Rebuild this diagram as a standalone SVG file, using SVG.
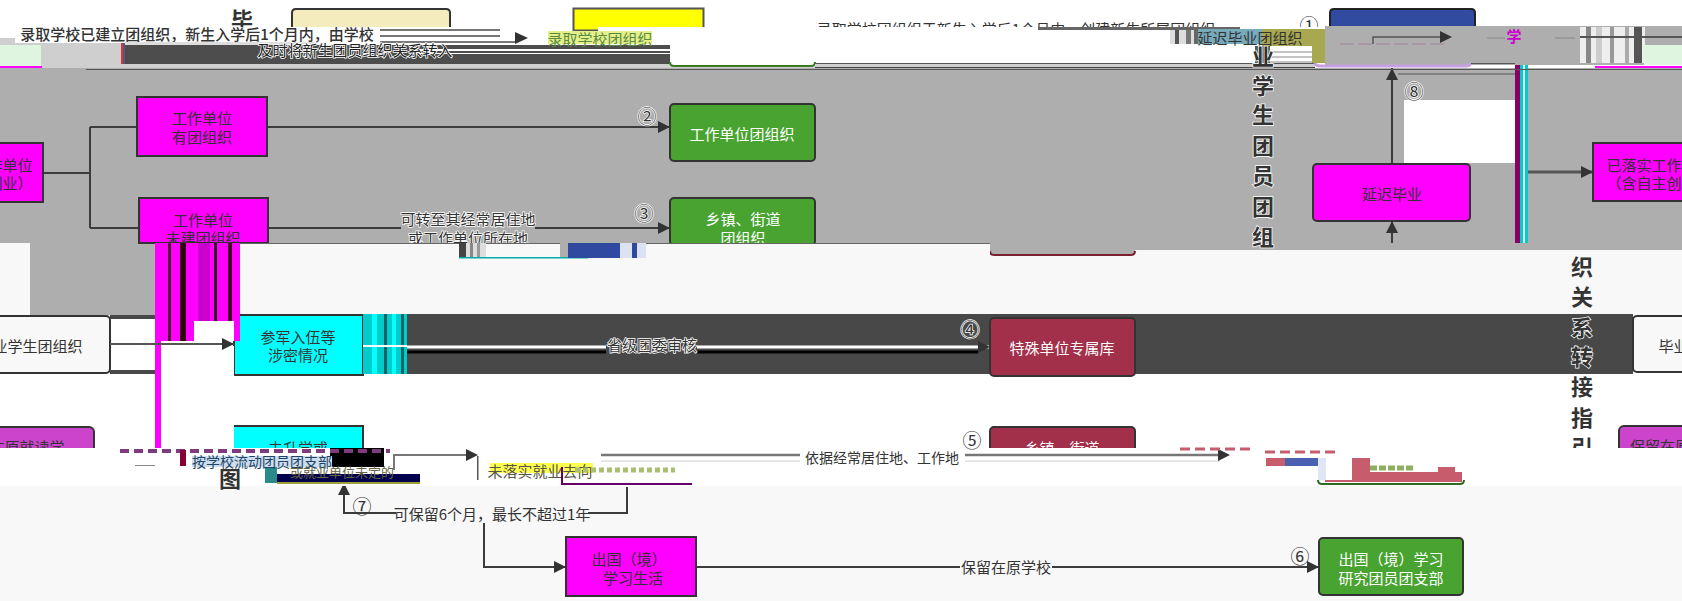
<svg xmlns="http://www.w3.org/2000/svg" width="1682" height="601" viewBox="0 0 1682 601">
<defs>
<marker id="ah" markerWidth="13" markerHeight="12" refX="12" refY="6" orient="auto" markerUnits="userSpaceOnUse"><path d="M0 0L12 6L0 12z" fill="#333"/></marker>
</defs>
<style>
text{font-family:"Noto Sans CJK SC","Noto Sans",sans-serif;font-size:15px;fill:#333;text-anchor:middle;dominant-baseline:central}
.n{stroke:#333;stroke-width:2}
.m{fill:#f0f}.g{fill:#49a331}.c{fill:#0ff}.r{fill:#a2304a}.p{fill:#cc44cc}
.w{fill:#fff}.f{fill:#f8f8f8}.gr{fill:#aeaeae}.lg{fill:#cfcfcf}.d{fill:#484848}
.l{fill:none;stroke:#3c3c3c;stroke-width:2}
.t{font-size:22px;font-weight:700}
.ci{font-size:19px}
.h{stroke:#fff;stroke-width:1.500;paint-order:stroke}
</style>
<g id="background">
<rect width="1682" height="601" class="w"/>
<rect y="68" width="1682" height="175" class="gr"/>
<rect y="243" width="1682" height="72" class="f"/>
<rect x="1135" y="243" width="547" height="7" class="gr"/>
<path d="M990 243V251Q990 255 994 255H1131Q1135 255 1135 251V243z" class="gr"/>
<path d="M990 251Q990 255 994 255H1131Q1135 255 1135 251" fill="none" stroke="#7a1f30" stroke-width="2"/>
<rect x="30" y="243" width="125" height="72" class="gr"/>
<rect x="0" y="486" width="1682" height="115" class="f"/>
<rect x="407" y="314" width="583" height="60" class="d"/>
<rect x="990" y="314" width="643" height="60" class="d"/>
<rect x="1404" y="100" width="111" height="63" class="w"/>
</g>
<g id="connectors">
<path class="l" d="M43 173H90M90 127V228"/>
<path class="l" d="M90 127H137M90 228H139"/>
<path class="l" d="M267 127H670" marker-end="url(#ah)"/>
<path class="l" d="M268 228H670" marker-end="url(#ah)"/>
<path class="l" d="M1392 164V68" marker-end="url(#ah)"/>
<path class="l" d="M1392 243V221" marker-end="url(#ah)"/>
<path d="M1520 172H1593" stroke="#555" stroke-width="3" fill="none" marker-end="url(#ah)"/>
<path d="M363 347H990" stroke="#fff" stroke-width="3" fill="none" marker-end="url(#ah)"/>
<path d="M403 352H978" stroke="#000" stroke-width="3" fill="none"/>
<path class="l" d="M627 487V513H588"/>
<path class="l" d="M396 513H344V483" marker-end="url(#ah)"/>
<path class="l" d="M484 523V567H566" marker-end="url(#ah)"/>
<path class="l" d="M696 567H1319" marker-end="url(#ah)"/>
</g>
<g id="node-work-left"><rect x="-80" y="143" width="123" height="59" class="m n"/><text x="-20" y="164">已落实工作单位</text><text x="-20" y="182">（含自主创业）</text></g>
<g id="node-work-org"><rect x="137" y="97" width="130" height="59" class="m n"/><text x="202" y="117.500">工作单位</text><text x="202" y="136">有团组织</text></g>
<g id="node-work-noorg"><rect x="139" y="198" width="129" height="45" class="m n"/><text x="203" y="219">工作单位</text><text x="203" y="237">未建团组织</text></g>
<g id="node-org-2"><rect x="670" y="104" width="145" height="57" rx="4" class="g n"/><text x="742" y="133" style="fill:#fff">工作单位团组织</text></g>
<g id="node-org-3"><rect x="670" y="198" width="145" height="47" rx="4" class="g n"/><text x="743" y="218" style="fill:#fff">乡镇、街道</text><text x="743" y="237" style="fill:#fff">团组织</text></g>
<g id="node-delay"><rect x="1313" y="164" width="157" height="57" rx="4" class="m n"/><text x="1392" y="193">延迟毕业</text></g>
<g id="node-work-right"><rect x="1593" y="143" width="123" height="58" class="m n"/><text x="1659" y="164">已落实工作单位</text><text x="1659" y="182">（含自主创业）</text></g>
<g id="node-left-grad"><rect x="-60" y="316" width="170" height="57" rx="4" class="f n"/><text x="30" y="345">毕业学生团组织</text></g>
<g id="node-army"><rect x="234" y="315" width="129" height="60" class="c n"/><text x="298" y="336">参军入伍等</text><text x="298" y="354">涉密情况</text></g>
<g id="node-special"><rect x="990" y="318" width="145" height="58" rx="4" class="r n"/><text x="1062" y="347" style="fill:#fff">特殊单位专属库</text></g>
<g id="node-right-grad"><rect x="1633" y="316" width="100" height="56" rx="4" class="f n"/><text x="1711" y="345">毕业学生团组织</text></g>
<g id="node-keep-left"><rect x="-60" y="427" width="154" height="50" rx="5" class="p n"/><text x="27" y="446">在原就读学</text></g>
<g id="node-unemployed"><rect x="233" y="426" width="130" height="50" class="c n"/><text x="298" y="447">未升学或</text></g>
<g id="node-town-5"><rect x="990" y="427" width="145" height="50" rx="4" class="r n"/><text x="1062" y="447" style="fill:#fff">乡镇、街道</text></g>
<g id="node-keep-right"><rect x="1619" y="426" width="100" height="50" rx="5" class="p n"/><text x="1690" y="445">保留在原就读学校</text></g>
<g id="node-abroad"><rect x="566" y="537" width="130" height="59" class="m n"/><text x="629" y="558">出国（境）</text><text x="633" y="577">学习生活</text></g>
<g id="node-abroad-org"><rect x="1319" y="538" width="144" height="57" rx="4" class="g n"/><text x="1391" y="558" style="fill:#fff">出国（境）学习</text><text x="1391" y="577" style="fill:#fff">研究团员团支部</text></g>
<g id="labels">
<text x="647" y="115" class="ci h">②</text><text x="644" y="212" class="ci h">③</text>
<text x="1414" y="90" class="ci h">⑧</text><text x="970" y="328" class="ci h">④</text>
<text x="362" y="505" class="ci">⑦</text><text x="1300" y="555" class="ci">⑥</text>
<rect x="401" y="209" width="134" height="34" class="gr"/>
<text x="468" y="218" class="h">可转至其经常居住地</text><text x="468" y="237" class="h">或工作单位所在地</text>
<rect x="606" y="336" width="91" height="18" class="d"/>
<text x="652" y="344" class="h">省级团委审核</text>
<rect x="396" y="503" width="192" height="20" class="f"/>
<text x="492" y="513">可保留6个月，最长不超过1年</text>
<rect x="960" y="557" width="92" height="20" class="f"/>
<text x="1006" y="566">保留在原学校</text>
<text x="1263" y="84" class="t h">学</text><text x="1263" y="113" class="t h">生</text><text x="1263" y="144" class="t h">团</text><text x="1263" y="174" class="t h">员</text><text x="1263" y="205" class="t h">团</text><text x="1263" y="235" class="t h">组</text>
<text x="1582" y="265" class="t">织</text><text x="1582" y="295" class="t">关</text><text x="1582" y="326" class="t h">系</text><text x="1582" y="355" class="t h">转</text><text x="1582" y="385" class="t">接</text><text x="1582" y="416" class="t">指</text><text x="1582" y="446" class="t">引</text>
</g>
<g id="band-bottom">
<rect x="240" y="243" width="219" height="17" class="f"/>
<rect x="486" y="243" width="504" height="17" class="f"/>
<rect x="240" y="243" width="750" height="1" fill="#666"/>
<rect x="459" y="243" width="27" height="14" fill="#ddd"/>
<rect x="459" y="243" width="7" height="14" fill="#444"/><rect x="470" y="243" width="3" height="14" fill="#888"/><rect x="477" y="243" width="3" height="14" fill="#999"/>
<rect x="459" y="257" width="129" height="1.500" fill="#0aa"/>
<rect x="560" y="243" width="8" height="14" class="gr"/>
<rect x="568" y="243" width="52" height="15" fill="#3049a0"/><rect x="620" y="243" width="26" height="15" fill="#dde2f2"/><rect x="632" y="243" width="5" height="15" fill="#3049a0"/>
<rect x="161" y="243" width="79" height="98" class="m"/>
<rect x="168" y="243" width="3" height="98" fill="#503"/><rect x="180" y="243" width="6" height="98" fill="#301"/><rect x="198" y="243" width="12" height="98" fill="#c0c"/><rect x="214" y="243" width="3" height="98" fill="#302"/><rect x="228" y="243" width="4" height="98" fill="#402"/>
<rect x="155" y="243" width="6" height="205" class="m"/>
<rect x="161" y="346" width="73" height="102" class="w"/>
<rect x="194" y="321" width="40" height="20" class="w"/>
<rect x="110" y="315" width="45" height="4" fill="#484848"/><rect x="110" y="370" width="45" height="4" fill="#484848"/>
<path d="M110 344H234" stroke="#555" stroke-width="2" fill="none" marker-end="url(#ah)"/>
<rect x="363" y="314" width="44" height="60" fill="#0cc"/>
<rect x="372" y="314" width="5" height="60" fill="#0ff"/><rect x="384" y="314" width="3" height="60" fill="#066"/><rect x="392" y="314" width="4" height="60" fill="#0ff"/><rect x="401" y="314" width="3" height="60" fill="#066"/>
<rect x="363" y="345" width="44" height="2" class="w"/>
</g>
<g id="right-column">
<rect x="1502" y="45" width="3" height="18" fill="#0aa"/><rect x="1507" y="45" width="3" height="18" fill="#0aa"/>
<rect x="1515" y="42" width="5" height="201" fill="#806"/>
<rect x="1520" y="42" width="3" height="201" fill="#0cc"/><rect x="1523" y="42" width="2" height="201" fill="#eee"/><rect x="1525" y="42" width="3" height="201" fill="#0cc"/>
<path d="M1398 74H1515" stroke="#555" fill="none"/>
</g>
<g id="top-band">
<path d="M292 28V13Q292 9 296 9H446Q450 9 450 13V28z" fill="#f5ecbd" stroke="#333" stroke-width="2"/>
<rect x="573.500" y="8.500" width="130" height="22" fill="#ff0" stroke="#555" stroke-width="2"/>
<path d="M1330 28V13Q1330 9 1334 9H1471Q1475 9 1475 13V28z" fill="#304ba0" stroke="#222" stroke-width="2"/>
<text x="242" y="18" class="t">毕</text>
<text x="1016" y="28">录取学校团组织于新生入学后1个月内，创建新生所属团组织</text>
<text x="1309" y="24" class="ci">①</text>
<rect x="598" y="27" width="1084" height="38" class="w"/>
<rect y="27" width="520" height="18" class="w"/>
<rect x="0" y="38" width="125" height="30" class="lg"/>
<rect x="0" y="45" width="41" height="21" fill="#e0f5e0"/>
<rect x="0" y="66" width="42" height="2" class="m"/>
<rect x="125" y="45" width="545" height="19" fill="#4d4d4d"/>
<rect x="121" y="43" width="2" height="21" fill="#d33"/><rect x="123" y="43" width="2" height="21" fill="#558"/>
<rect x="420" y="49" width="250" height="2" class="w"/><rect x="420" y="53" width="250" height="1" class="w"/>
<rect x="125" y="64" width="715" height="4" class="lg"/>
<rect x="86" y="69" width="1596" height="1" fill="#555"/>
<rect x="670" y="41" width="145" height="25" class="w"/>
<path d="M670 62Q670 66 674 66H811Q815 66 815 62" fill="none" stroke="#3a7a25" stroke-width="2"/>
<rect x="815" y="63" width="500" height="1" fill="#555"/>
<rect x="815" y="64" width="500" height="3" class="lg"/>
<rect x="815" y="67" width="500" height="1" fill="#444"/>
<rect y="37" x="15" width="365" height="6" class="w"/>
<text x="197" y="33" style="font-weight:500">录取学校已建立团组织，新生入学后1个月内，由学校</text>
<path d="M380 30H500M380 36H500M380 42H515" stroke="#777" stroke-width="2" fill="none"/>
<path d="M515 32L528 38L515 44z" fill="#333"/>
<rect x="125" y="42" width="190" height="3" fill="#ddd"/>
<text x="355" y="49" class="h" style="fill:#222">及时将新生团员组织关系转入</text>
<rect x="548" y="31" width="104" height="13" fill="#e4f08a"/>
<text x="600" y="38" style="fill:#5a8a40">录取学校团组织</text>
<rect x="1038" y="27" width="202" height="3" fill="#666"/>
<rect x="1170" y="30" width="92" height="14" fill="#ddd"/>
<rect x="1175" y="30" width="4" height="14" fill="#555"/><rect x="1186" y="30" width="5" height="14" fill="#777"/><rect x="1194" y="30" width="4" height="14" fill="#666"/>
<rect x="1198" y="29" width="64" height="15" fill="#7ab"/>
<rect x="1262" y="29" width="63" height="34" fill="#a8a850"/>
<rect x="1325" y="26" width="357" height="39" class="gr"/>
<rect x="1255" y="46" width="15" height="17" fill="#4a6058"/>
<rect x="1270" y="46" width="42" height="17" class="w"/>
<path d="M1270 52H1312M1270 57H1312M1270 62H1312" stroke="#888" fill="none"/>
<text x="1250" y="37">延迟毕业团组织</text>
<text x="1263" y="55" class="t h">业</text>
<path d="M1315 63Q1316 66 1320 66H1466Q1470 66 1471 63" fill="none" stroke="#c8a0e0" stroke-width="3"/>
<rect x="1471" y="63" width="44" height="1" fill="#555"/>
<path d="M1373 44V37H1440" stroke="#555" stroke-width="1.500" fill="none"/>
<path d="M1440 31L1452 37L1440 43z" fill="#333"/>
<path d="M1340 44H1445" stroke="#a080a0" stroke-dasharray="14 4" fill="none"/>
<path d="M1487 38H1505M1555 38H1575" stroke="#888" fill="none"/>
<text x="1514" y="35" style="fill:#c0c;font-weight:700">学</text>
<rect x="1580" y="27" width="65" height="36" fill="#eee"/>
<rect x="1586" y="27" width="5" height="36" fill="#888"/><rect x="1596" y="27" width="6" height="36" fill="#ccc"/><rect x="1610" y="27" width="4" height="36" fill="#999"/><rect x="1625" y="27" width="4" height="36" fill="#aaa"/><rect x="1634" y="27" width="8" height="36" fill="#555"/>
<rect x="1644" y="45" width="38" height="20" fill="#e0f5e0"/>
<rect x="1595" y="66" width="87" height="2" class="m"/>
<path d="M1580 37H1682" stroke="#555" stroke-width="2" fill="none"/>
</g>
<g id="lower-strip">
<rect x="0" y="448" width="1682" height="38" class="w"/>
<text x="972" y="439" class="ci">⑤</text>
<rect x="330" y="448" width="54" height="19" fill="#000"/>
<path d="M120 451H390" stroke="#803a80" stroke-width="4" stroke-dasharray="9 5" fill="none"/>
<rect x="135" y="465" width="20" height="1" fill="#888"/>
<rect x="180" y="450" width="6" height="16" fill="#803"/>
<rect x="265" y="462" width="12" height="21" fill="#2a8a8a"/>
<rect x="192" y="456" width="140" height="11" fill="#cde"/>
<text x="262" y="461" style="fill:#246;font-size:14px">按学校流动团员团支部</text>
<rect x="277" y="474" width="143" height="8" fill="#00004d"/>
<rect x="277" y="482" width="143" height="2" fill="#a0a040"/>
<text x="342" y="471" style="fill:#664;font-size:13px">或就业单位未定的</text>
<text x="230" y="477" class="t">图</text>
<path d="M394 470V455H467" stroke="#777" stroke-width="2" fill="none"/>
<rect x="477" y="456" width="1.500" height="24" fill="#555"/>
<path d="M466 449L478 455L466 461z" fill="#333"/>
<rect x="490" y="463" width="103" height="10" fill="#ffff50"/>
<text x="540" y="470" style="fill:#554">未落实就业去向</text>
<path d="M562 467V484H692" stroke="#606" stroke-width="2" fill="none"/>
<path d="M575 470H675" stroke="#a8c070" stroke-width="5" stroke-dasharray="5 3" fill="none"/>
<path d="M601 455H1220" stroke="#777" stroke-width="2.500" fill="none"/>
<path d="M601 461H1220" stroke="#ccc" fill="none"/>
<rect x="800" y="448" width="165" height="18" class="w"/>
<text x="882" y="457" style="font-size:14px">依据经常居住地、工作地</text>
<path d="M1218 449L1230 455L1218 461z" fill="#333"/>
<path d="M1180 449H1250M1265 452H1340" stroke="#c75c6d" stroke-width="3" stroke-dasharray="10 5" fill="none"/>
<rect x="1266" y="458" width="20" height="8" fill="#c75c6d"/>
<rect x="1285" y="458" width="41" height="8" fill="#4a60b0"/>
<rect x="1318" y="458" width="8" height="22" fill="#e0e6f5"/>
<rect x="1352" y="458" width="18" height="22" fill="#c75c6d"/>
<rect x="1370" y="472" width="92" height="8" fill="#c75c6d"/>
<rect x="1325" y="480" width="137" height="2" fill="#c75c6d"/>
<rect x="1438" y="467" width="17" height="5" fill="#c75c6d"/>
<path d="M1318 480Q1318 484 1322 484H1460Q1464 484 1464 480" fill="none" stroke="#2f6b22" stroke-width="2"/>
<path d="M1370 468H1414" stroke="#8ab060" stroke-width="5" stroke-dasharray="7 2" fill="none"/>
</g>
</svg>
